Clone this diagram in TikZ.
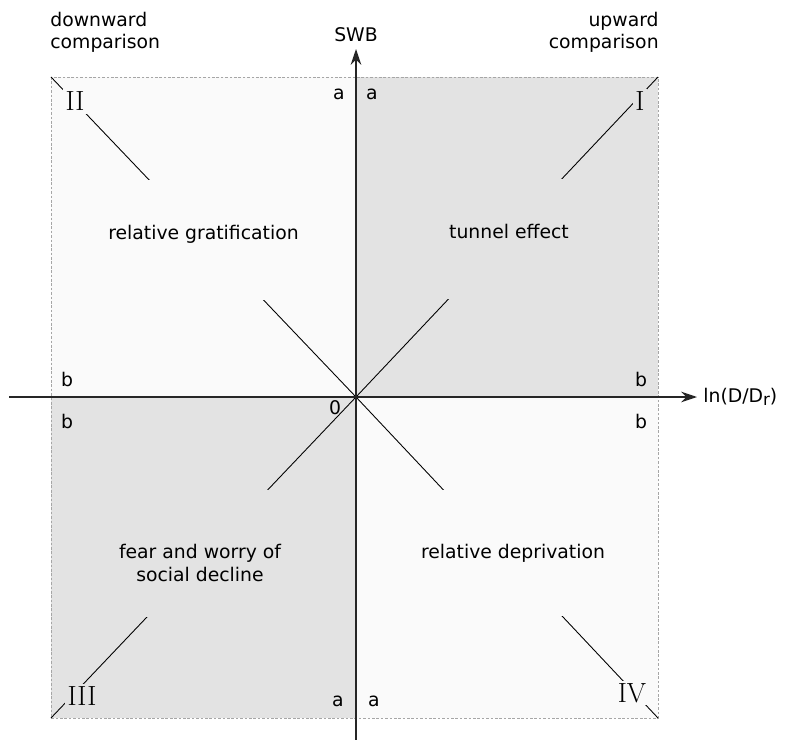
\documentclass[tikz,border=0pt]{standalone}
\usepackage{fontspec}
\setsansfont{DejaVu Sans}
\usetikzlibrary{arrows.meta}
\definecolor{qdark}{HTML}{E3E3E3}
\definecolor{qlight}{HTML}{FAFAFA}
\begin{document}
\begin{tikzpicture}[x=0.02cm,y=-0.02cm,>={Stealth[length=9pt,width=6pt]},
    font=\sffamily\fontsize{10.7}{12.6}\selectfont,
    roman/.style={font=\rmfamily\fontsize{15.8}{18}\selectfont,inner sep=1.5pt},
    zone/.style={anchor=base,align=center,inner ysep=0pt,inner xsep=2pt}]
\useasboundingbox (0,0) rectangle (785,740);

% quadrants
\fill[qdark](356,77)rectangle(658,397);
\fill[qlight](51,77)rectangle(356,397);
\fill[qdark](51,397)rectangle(356,718);
\fill[qlight](356,397)rectangle(658,718);
\draw[black!35,line width=0.4pt,dash pattern=on 1.5pt off 1pt](51,77)rectangle(658,718);

\coordinate (o) at (356,397);
\coordinate (tl) at (51,77);
\coordinate (tr) at (658,77);
\coordinate (bl) at (51,718);
\coordinate (br) at (658,718);
\draw[line width=0.5pt](tl)--(o)--(br);
\draw[line width=0.5pt](bl)--(o)--(tr);

\node[roman,fill=qlight] (II) at (75,101.5) {II};
\node[roman,fill=qdark] (I) at (640,101) {I};
\node[roman,fill=qdark] (III) at (82,696) {III};
\node[roman,fill=qlight] (IV) at (632,693) {IV};

\node[zone,fill=qlight,text height=1.18cm,text depth=1.22cm] (grat) at (203.5,239) {relative gratification};
\node[zone,fill=qdark,text height=1.19cm,text depth=1.21cm] (tunnel) at (509,238.3) {tunnel effect};
\node[zone,fill=qdark,text height=1.82cm,text depth=0.72cm] (fear) at (200,581) {fear and worry of\\social decline};
\node[zone,fill=qlight,text height=1.36cm,text depth=1.16cm] (depr) at (513,558) {relative deprivation};

\foreach \x/\y/\t [count=\i] in {339/94/a,372/94/a,338/701/a,374/701/a,67/379/b,67/421/b,641/379/b,641/421/b,335/408/0}
{
    \node (lab\i) at (\x,\y) {\t};
}

\node[anchor=base west,align=left,inner sep=0pt] (down) at (50,48.5) {downward\\comparison};
\node[anchor=base east,align=right,inner sep=0pt] (up) at (659,48.5) {upward\\comparison};

% axes
\coordinate (xs) at (9,397);
\coordinate (xe) at (697,397);
\coordinate (ys) at (356,740);
\coordinate (ye) at (356,49);
\draw[->,black!85,line width=0.8pt](xs)--(xe);
\draw[->,black!85,line width=0.8pt](ys)--(ye);
\node[anchor=west,inner sep=0pt] (lnD) at (703,397) {ln(D/D\raisebox{-0.35ex}{\fontsize{9.5}{10}\selectfont r})};
\node (swb) at (356,35) {SWB};

\end{tikzpicture}
\end{document}
